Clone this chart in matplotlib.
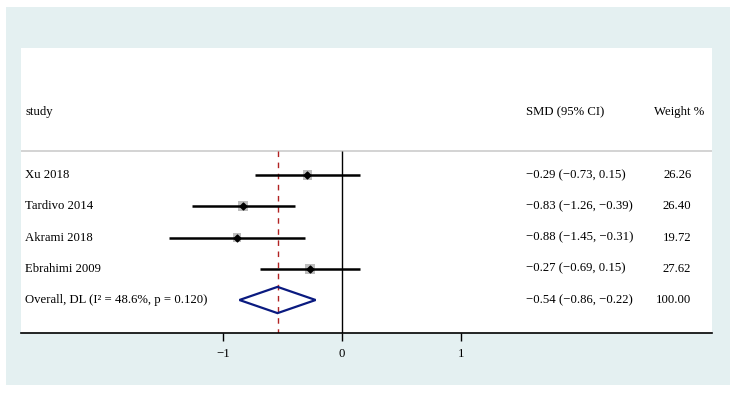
import matplotlib.pyplot as plt
from matplotlib.patches import Rectangle, Polygon

plt.rcParams['font.family'] = ['Liberation Serif', 'DejaVu Serif']
plt.rcParams['font.size'] = 9.2

# study-level data
studies = ['Xu 2018', 'Tardivo 2014', 'Akrami 2018', 'Ebrahimi 2009']
smd = [-0.29, -0.83, -0.88, -0.27]
ci_low = [-0.73, -1.26, -1.45, -0.69]
ci_high = [0.15, -0.39, -0.31, 0.15]
weights = [26.26, 26.40, 19.72, 27.62]

# pooled estimate
overall_label = 'Overall, DL (I\u00b2 = 48.6%, p = 0.120)'
overall_smd = -0.54
overall_low = -0.86
overall_high = -0.22
overall_weight = 100.00

xticks = [-1, 0, 1]


def fmt(v):
    return '{:.2f}'.format(v).replace('-', '\u2212')


fig = plt.figure(figsize=(7.38, 3.95), dpi=100)
fig.patches.append(Rectangle((6 / 738, 10 / 395), 724 / 738, 378 / 395,
                             transform=fig.transFigure, facecolor='#e4f0f1',
                             edgecolor='none', zorder=-10))

ax = fig.add_axes([21 / 738, 62 / 395, 691 / 738, 285 / 395])
ax.set_zorder(1)
ax.set_facecolor('white')
ax.set_xlim(-2.695, 3.11)
ax.set_ylim(5.056, -4.064)

for s in ['top', 'left', 'right']:
    ax.spines[s].set_visible(False)
ax.spines['bottom'].set_linewidth(1.2)
ax.set_yticks([])
ax.set_xticks(xticks)
ax.set_xticklabels([str(t).replace('-', '\u2212') for t in xticks])
ax.tick_params(axis='x', direction='out', length=6, width=1, pad=5)

overall_row = len(studies)
top_line = -0.77

# header and separator
ax.axhline(top_line, color='#cccccc', lw=1.2)
tr = ax.get_yaxis_transform()
ax.text(0.006, -2, 'study', transform=tr, va='center', ha='left')
ax.text(0.731, -2, 'SMD (95% CI)', transform=tr, va='center', ha='left')
ax.text(0.952, -2, 'Weight %', transform=tr, va='center', ha='center')

# reference lines
ax.vlines(0, top_line, 5.056, color='black', lw=1.0)
ax.vlines(overall_smd, top_line, 5.056, color='#b22222', lw=1.0,
          linestyles=(0, (4, 4)))

# study rows
for i, name in enumerate(studies):
    ax.hlines(i, ci_low[i], ci_high[i], color='black', lw=1.8, zorder=3)
    ax.scatter(smd[i], i, marker='s', s=weights[i] * 1.8, color='#bdbdbd',
               edgecolor='none', zorder=2)
    ax.scatter(smd[i], i, marker='D', s=12, color='black', zorder=4)
    ax.text(0.006, i, name, transform=tr, va='center', ha='left')
    ax.text(0.731, i, '{} ({}, {})'.format(fmt(smd[i]), fmt(ci_low[i]), fmt(ci_high[i])),
            transform=tr, va='center', ha='left')
    ax.text(0.970, i, '{:.2f}'.format(weights[i]), transform=tr, va='center', ha='right')

# overall diamond
h = 0.42
ax.add_patch(Polygon([(overall_low, overall_row), (overall_smd, overall_row - h),
                      (overall_high, overall_row), (overall_smd, overall_row + h)],
                     closed=True, fill=False, edgecolor='#0a1a80', lw=1.6, zorder=5))
ax.text(0.006, overall_row, overall_label, transform=tr, va='center', ha='left')
ax.text(0.731, overall_row, '{} ({}, {})'.format(fmt(overall_smd), fmt(overall_low), fmt(overall_high)),
        transform=tr, va='center', ha='left')
ax.text(0.970, overall_row, '{:.2f}'.format(overall_weight), transform=tr, va='center', ha='right')

fig.savefig('out.png', dpi=100, facecolor='white')
